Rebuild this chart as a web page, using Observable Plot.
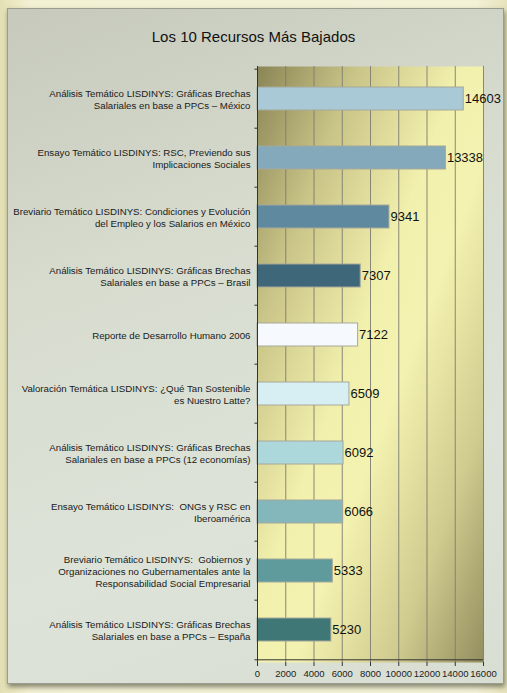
<!DOCTYPE html>
<html>
<head>
<meta charset="utf-8">
<script src="https://cdn.jsdelivr.net/npm/d3@7"></script>
<script src="https://cdn.jsdelivr.net/npm/@observablehq/plot@0.6"></script>
<style>
  html, body { margin: 0; padding: 0; }
  body { width: 507px; height: 693px; background: linear-gradient(90deg, #e4e0b4 0%, #f3f1d4 6%, #f3f1d6 94%, #e6e3bc 100%); position: relative; overflow: hidden; font-family: "Liberation Sans", Arial, sans-serif; }
  #card { position: absolute; left: 7px; top: 8px; width: 495px; height: 674px; border: 1px solid #9a9c94; background: linear-gradient(160deg, #c6c9bb 0%, #d7dccf 35%, #dde3d8 70%, #d8ded2 100%); box-shadow: 1px 3px 5px rgba(60,60,40,0.6); }
  #title { position: absolute; left: 0; width: 507px; top: 28px; text-align: center; font-size: 15px; color: #111; }
  #chart { position: absolute; left: 0; top: 0; }
</style>
</head>
<body>
<div id="card"></div>
<div id="title">Los 10 Recursos Más Bajados</div>
<div id="chart"></div>
<script>
const categories = [
  "Análisis Temático LISDINYS: Gráficas Brechas\nSalariales en base a PPCs – México",
  "Ensayo Temático LISDINYS: RSC, Previendo sus\nImplicaciones Sociales",
  "Breviario Temático LISDINYS: Condiciones y Evolución\ndel Empleo y los Salarios en México",
  "Análisis Temático LISDINYS: Gráficas Brechas\nSalariales en base a PPCs – Brasil",
  "Reporte de Desarrollo Humano 2006",
  "Valoración Temática LISDINYS: ¿Qué Tan Sostenible\nes Nuestro Latte?",
  "Análisis Temático LISDINYS: Gráficas Brechas\nSalariales en base a PPCs (12 economías)",
  "Ensayo Temático LISDINYS:  ONGs y RSC en\nIberoamérica",
  "Breviario Temático LISDINYS:  Gobiernos y\nOrganizaciones no Gubernamentales ante la\nResponsabilidad Social Empresarial",
  "Análisis Temático LISDINYS: Gráficas Brechas\nSalariales en base a PPCs – España"
];
const downloads = [14603, 13338, 9341, 7307, 7122, 6509, 6092, 6066, 5333, 5230];
const barColors = ["#a9c9d7", "#83a9bb", "#5f899f", "#3e6779", "#f6faff", "#d7eff3", "#acd7db", "#83b7bb", "#5f9b9d", "#3f7777"];
const xTicks = [0, 2000, 4000, 6000, 8000, 10000, 12000, 14000, 16000];

const data = categories.map((c, i) => ({label: c, value: downloads[i], color: barColors[i]}));

const plot = Plot.plot({
  width: 507,
  height: 693,
  marginLeft: 257,
  marginRight: 24,
  marginTop: 66,
  marginBottom: 31,
  style: {background: "transparent", fontFamily: "'Liberation Sans', Arial, sans-serif", color: "#111"},
  x: {domain: [0, 16000], ticks: xTicks, label: null},
  y: {domain: categories, padding: 0, axis: null},
  marks: [
    Plot.frame({fill: "url(#plotbg)", stroke: "none"}),
    Plot.gridX(xTicks, {stroke: "#7d7c70", strokeOpacity: 0.9, strokeWidth: 1}),
    Plot.barX(data, {y: "label", x: "value", fill: "color", stroke: "#a6a89a", strokeWidth: 1, insetTop: 18, insetBottom: 18}),
    Plot.text(data, {x: "value", y: "label", text: d => String(d.value), textAnchor: "start", dx: 1, fontSize: 13, fill: "#111"}),
    Plot.text(data, {x: 0, y: "label", text: "label", textAnchor: "end", dx: -7, fontSize: 9.7, lineHeight: 1.28, fill: "#1a1a1a"}),
    Plot.ruleX([0], {stroke: "#333", strokeWidth: 1}),
    Plot.ruleY(categories, {y: d => d, x1: -180, x2: 0, dy: -29.8, stroke: "#333"}),
    Plot.ruleY([categories[categories.length - 1]], {y: d => d, x1: -180, x2: 0, dy: 29.8, stroke: "#333"}),
    Plot.axisX(xTicks, {tickSize: 4, tickPadding: 4, fontSize: 9.5, stroke: "#333", fill: "#222", tickFormat: d => String(d), label: null}),
    Plot.ruleY([categories[categories.length - 1]], {y: d => d, dy: 29.8, stroke: "#333"})
  ]
});

const svg = d3.select(plot);
const defs = svg.insert("defs", ":first-child");
const g = defs.append("linearGradient").attr("id", "plotbg")
  .attr("x1", 0).attr("y1", 0).attr("x2", 1).attr("y2", 1);
g.append("stop").attr("offset", "0%").attr("stop-color", "#8a8555");
g.append("stop").attr("offset", "22%").attr("stop-color", "#c9c487");
g.append("stop").attr("offset", "45%").attr("stop-color", "#f2f0ad");
g.append("stop").attr("offset", "58%").attr("stop-color", "#f4f2b0");
g.append("stop").attr("offset", "80%").attr("stop-color", "#cfca8e");
g.append("stop").attr("offset", "100%").attr("stop-color", "#938e5e");

document.getElementById("chart").appendChild(plot);
</script>
</body>
</html>
